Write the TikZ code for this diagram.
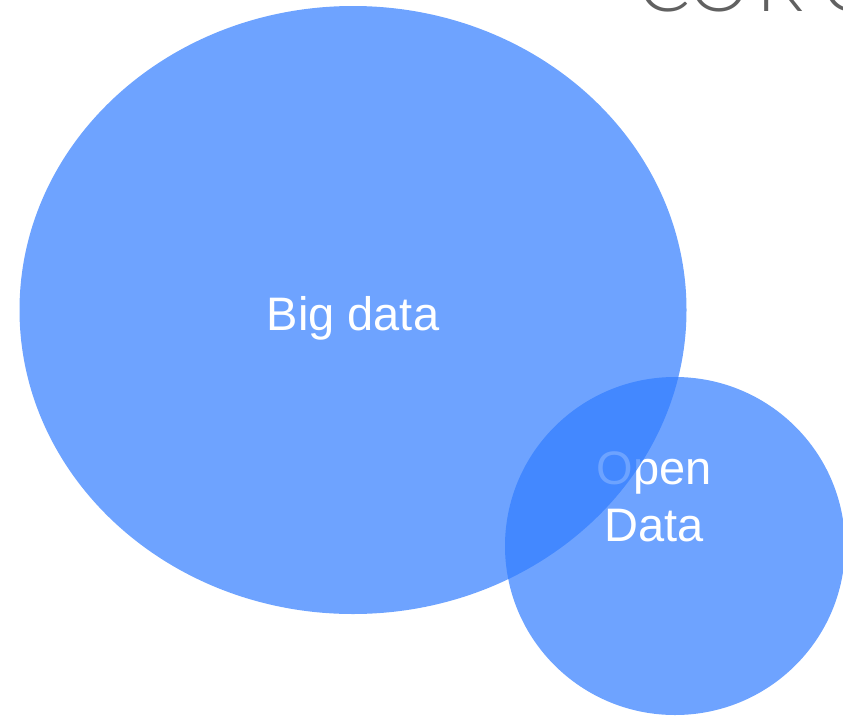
\documentclass[tikz,border=0pt]{standalone}
\usepackage{fontspec}
\setmainfont{Liberation Sans}
\newfontfamily\logofont{Lato Light}
\definecolor{blobblue}{HTML}{307CFF}
\tikzset{
  blob/.style={fill=blobblue,fill opacity=0.7,draw=none},
  lbl/.style={text=white,font=\fontsize{47}{57}\selectfont,inner sep=0pt,align=center},
  logo/.style={text=black!62,font=\logofont\fontsize{78}{78}\selectfont,inner sep=0pt,anchor=base}
}
\begin{document}
\begin{tikzpicture}[x=1pt,y=-1pt]
\useasboundingbox (0,0) rectangle (843,715);
\clip (0,0) rectangle (843,715);
\node[logo] (logoC) at (664,11) {C};
\node[logo] (logoO) at (719,11) {O};
\node[logo] (logoR) at (780,11) {R};
\node[logo] (logoE) at (848,11) {C};
\path[blob] (675,546) ellipse [x radius=170,y radius=169];
\node[lbl] (open) at (654,497) {Open\\Data};
\path[blob] (353,310) ellipse [x radius=333.5,y radius=304];
\node[lbl] (big) at (353,318) {Big data};
\end{tikzpicture}
\end{document}
